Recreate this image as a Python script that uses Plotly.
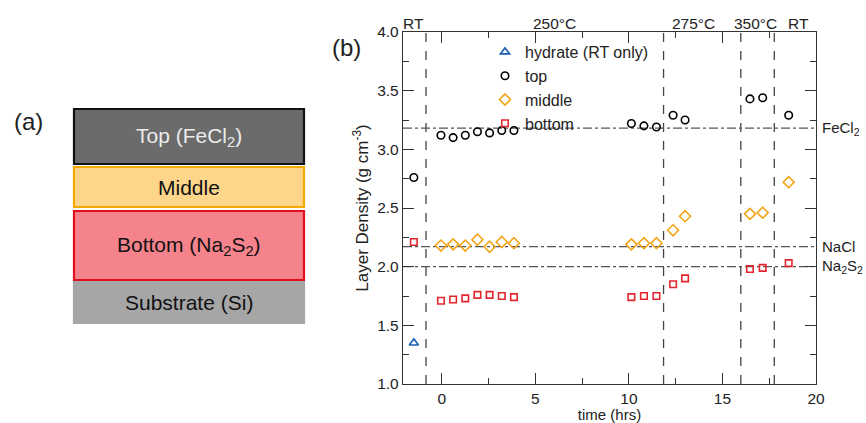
import plotly.graph_objects as go

W, H = 866, 423

# ---- data ----
hydrate_t = [-1.5]
hydrate_y = [1.35]

top_t = [-1.5, -0.05, 0.6, 1.25, 1.9, 2.55, 3.2, 3.85, 10.13, 10.8, 11.47, 12.36, 13.0, 16.47, 17.15, 18.54]
top_y = [2.76, 3.12, 3.10, 3.12, 3.15, 3.14, 3.16, 3.16, 3.22, 3.20, 3.19, 3.29, 3.25, 3.43, 3.44, 3.29]

mid_t = [-0.05, 0.6, 1.25, 1.9, 2.55, 3.2, 3.85, 10.13, 10.8, 11.47, 12.36, 13.0, 16.47, 17.15, 18.54]
mid_y = [2.18, 2.19, 2.18, 2.23, 2.17, 2.21, 2.20, 2.19, 2.20, 2.20, 2.31, 2.43, 2.45, 2.46, 2.72]

bot_t = [-1.5, -0.05, 0.6, 1.25, 1.9, 2.55, 3.2, 3.85, 10.13, 10.8, 11.47, 12.36, 13.0, 16.47, 17.15, 18.54]
bot_y = [2.21, 1.71, 1.72, 1.73, 1.76, 1.76, 1.75, 1.74, 1.74, 1.75, 1.75, 1.85, 1.90, 1.98, 1.99, 2.03]

stage_bounds = [-0.85, 11.85, 15.98, 17.77]
stage_labels = ["RT", "250°C", "275°C", "350°C", "RT"]
stage_label_t = [-1.53, 6.0, 13.45, 16.78, 19.07]

ref_names = ["FeCl<sub>2</sub>", "NaCl", "Na<sub>2</sub>S<sub>2</sub>"]
ref_vals = [3.18, 2.17, 2.0]

layers = ["Top (FeCl<sub>2</sub>)", "Middle", "Bottom (Na<sub>2</sub>S<sub>2</sub>)", "Substrate (Si)"]

FONT = "Liberation Sans, Arial, sans-serif"
TXT = "#222"

def px(x):
    return x / W

def py(y):
    return 1 - y / H

fig = go.Figure()

mk_lw = 1.6
fig.add_trace(go.Scatter(x=hydrate_t, y=hydrate_y, mode="markers", name="hydrate (RT only)",
                         marker=dict(symbol="triangle-up-open", size=8, color="#1d5fb5", line=dict(width=mk_lw))))
fig.add_trace(go.Scatter(x=top_t, y=top_y, mode="markers", name="top",
                         marker=dict(symbol="circle-open", size=7.5, color="black", line=dict(width=mk_lw))))
fig.add_trace(go.Scatter(x=mid_t, y=mid_y, mode="markers", name="middle",
                         marker=dict(symbol="diamond-open", size=8.5, color="#f2a516", line=dict(width=mk_lw))))
fig.add_trace(go.Scatter(x=bot_t, y=bot_y, mode="markers", name="bottom",
                         marker=dict(symbol="square-open", size=6.5, color="#e3262e", line=dict(width=mk_lw))))

# vertical stage boundaries
for b in stage_bounds:
    fig.add_shape(type="line", xref="x", yref="paper", x0=b, x1=b, y0=py(384), y1=py(32),
                  line=dict(color="#444", width=1.3, dash="dash"), layer="below")
# horizontal reference lines
for v, n in zip(ref_vals, ref_names):
    fig.add_shape(type="line", xref="paper", yref="y", x0=px(403), x1=px(816), y0=v, y1=v,
                  line=dict(color="#555", width=1.2, dash="dashdot"), layer="below")
    fig.add_annotation(text=n, xref="paper", yref="y", x=px(820), y=v, xanchor="left", yanchor="middle",
                       showarrow=False, font=dict(size=15, color=TXT, family=FONT))

# stage labels on top
for t, s in zip(stage_label_t, stage_labels):
    fig.add_annotation(text=s, xref="x", yref="paper", x=t, y=py(24), xanchor="center", yanchor="middle",
                       showarrow=False, font=dict(size=15.5, color=TXT, family=FONT))

# panel labels
fig.add_annotation(text="(b)", xref="paper", yref="paper", x=px(346), y=py(47), xanchor="center",
                   yanchor="middle", showarrow=False, font=dict(size=24, color=TXT, family=FONT))
fig.add_annotation(text="(a)", xref="paper", yref="paper", x=px(28), y=py(122), xanchor="center",
                   yanchor="middle", showarrow=False, font=dict(size=24, color=TXT, family=FONT))

# panel (a) layer stack
boxes = [
    (109, 164, "#6b6b6b", "#111111", "#ececec"),
    (167, 207, "#fdd68c", "#f5a800", "#111111"),
    (211, 280, "#f5838b", "#e0101e", "#111111"),
    (282, 323, "#a6a6a6", "#a6a6a6", "#111111"),
]
for (y0, y1, fill, edge, tc), label in zip(boxes, layers):
    fig.add_shape(type="rect", xref="paper", yref="paper", x0=px(74), x1=px(304), y0=py(y1), y1=py(y0),
                  fillcolor=fill, line=dict(color=edge, width=2.2))
    fig.add_annotation(text=label, xref="paper", yref="paper", x=px(189), y=py((y0 + y1) / 2),
                       xanchor="center", yanchor="middle", showarrow=False,
                       font=dict(size=21, color=tc, family=FONT))

fig.update_layout(
    width=W, height=H,
    margin=dict(l=0, r=0, t=0, b=0),
    paper_bgcolor="white", plot_bgcolor="white",
    font=dict(family=FONT, size=15, color=TXT),
    showlegend=True,
    legend=dict(x=px(485), y=py(35), xanchor="left", yanchor="top", bgcolor="rgba(0,0,0,0)",
                font=dict(size=16, family=FONT, color=TXT), tracegroupgap=0, itemwidth=30),
    xaxis=dict(domain=[px(403), px(816)], range=[-2.08, 20], dtick=5, tick0=0, automargin=False,
               showline=True, linecolor="#333", linewidth=1.4, mirror="allticks",
               ticks="inside", ticklen=11, tickcolor="#333", tickwidth=1.2, showgrid=False, zeroline=False,
               minor=dict(dtick=2.5, ticks="inside", ticklen=6, tickcolor="#333", tickwidth=1.2),
               tickfont=dict(size=15.5), title=dict(text="time (hrs)", font=dict(size=15), standoff=4)),
    yaxis=dict(domain=[py(384), py(32)], range=[1, 4], dtick=0.5, tick0=1, tickformat=".1f", automargin=False,
               showline=True, linecolor="#333", linewidth=1.4, mirror="allticks",
               ticks="inside", ticklen=11, tickcolor="#333", tickwidth=1.2, showgrid=False, zeroline=False,
               minor=dict(dtick=0.25, ticks="inside", ticklen=6, tickcolor="#333", tickwidth=1.2),
               tickfont=dict(size=15.5),
               title=dict(text="Layer Density (g cm<sup>-3</sup>)", font=dict(size=17), standoff=4)),
)

fig.write_html("out.html")
